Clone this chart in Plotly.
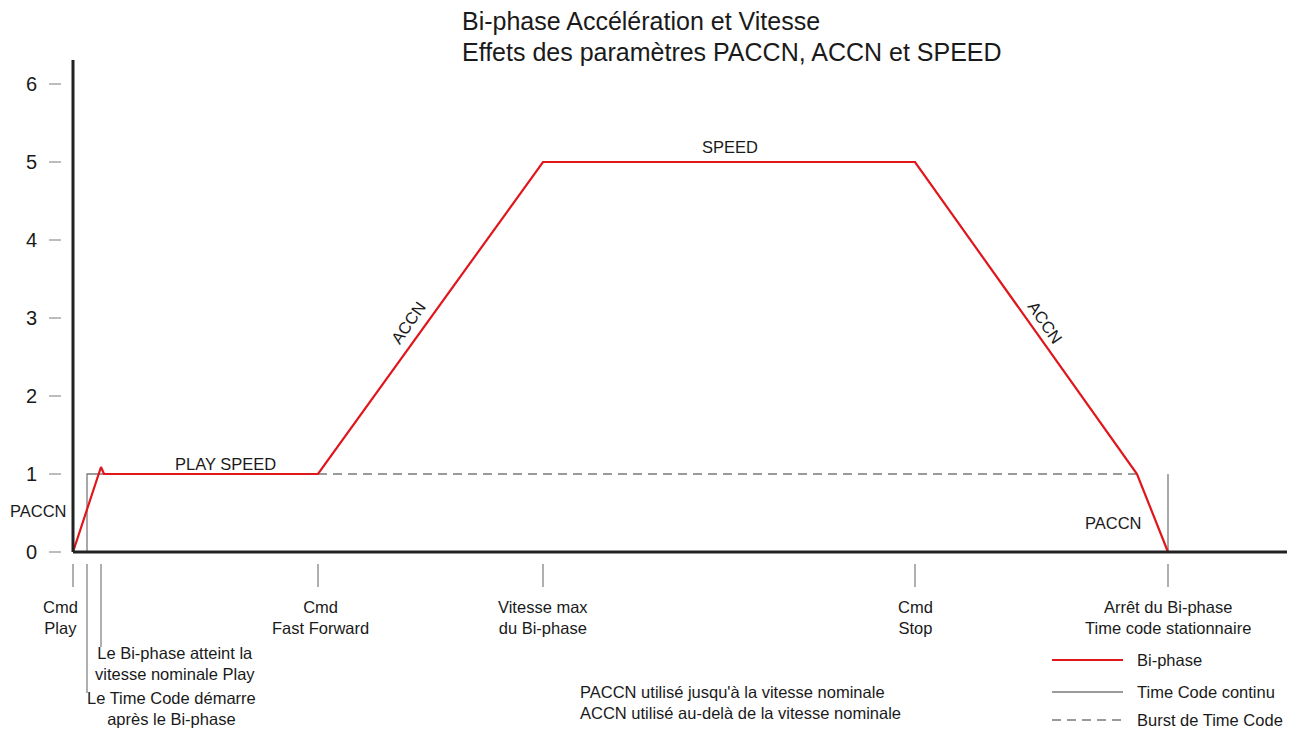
import plotly.graph_objects as go

# ---------------- data ----------------
# Bi-phase speed profile (time in arbitrary units, speed in x nominal)
biphase_t = [0, 2.8, 3.1, 24.5, 47.0, 84.2, 106.4, 109.5]
biphase_v = [0, 1.09, 1.0, 1.0, 5.0, 5.0, 1.0, 0]

# Time code continuous (starts after bi-phase, follows nominal speed)
tc_cont_t = [1.4, 1.4, 24.5]
tc_cont_v = [0, 1, 1]
tc_stop_t = [109.5, 109.5]
tc_stop_v = [1, 0]

# Burst of time code (above nominal speed)
burst_t = [24.5, 106.4]
burst_v = [1, 1]

y_ticks = [0, 1, 2, 3, 4, 5, 6]

event_t = [0, 1.4, 2.8, 24.5, 47.0, 84.2, 109.5]
event_labels = ["Cmd<br>Play",
                "Le Time Code démarre<br>après le Bi-phase",
                "Le Bi-phase atteint la<br>vitesse nominale Play",
                "Cmd<br>Fast Forward",
                "Vitesse max<br>du Bi-phase",
                "Cmd<br>Stop",
                "Arrêt du Bi-phase<br>Time code stationnaire"]

legend_names = ["Bi-phase", "Time Code continu", "Burst de Time Code"]

title_lines = ["Bi-phase Accélération et Vitesse",
               "Effets des paramètres PACCN, ACCN et SPEED"]

# ---------------- layout helpers ----------------
W, H = 1297, 729
PAGE_OFF = 8                  # page body margin
X0PX, XSCALE = 73, 10.0       # page pixel of t=0, pixels per time unit
Y0PX, YSCALE = 552, 78.0      # page pixel of v=0, pixels per speed unit


def px_x(p):
    return (p - X0PX) / XSCALE


def px_y(p):
    return (Y0PX - p) / YSCALE


FONT = "Liberation Sans, Arial, sans-serif"
TXT = "#1a1a1a"
RED = "#e0161b"
GRAY = "#7a7a7a"
FS = 16.5
DASH = "9px,6px"

fig = go.Figure()

fig.add_trace(go.Scatter(x=tc_cont_t, y=tc_cont_v, mode="lines",
                         line=dict(color=GRAY, width=1.3), name=legend_names[1],
                         showlegend=False))
fig.add_trace(go.Scatter(x=tc_stop_t, y=tc_stop_v, mode="lines",
                         line=dict(color=GRAY, width=1.3), showlegend=False))
fig.add_trace(go.Scatter(x=burst_t, y=burst_v, mode="lines",
                         line=dict(color=GRAY, width=1.3, dash=DASH),
                         name=legend_names[2], showlegend=False))
fig.add_trace(go.Scatter(x=biphase_t, y=biphase_v, mode="lines",
                         line=dict(color=RED, width=2.2), name=legend_names[0],
                         showlegend=False))

shapes = []
annotations = []

# axes lines
shapes.append(dict(type="line", x0=0, x1=px_x(1287), y0=0, y1=0,
                   line=dict(color="#222", width=3)))
shapes.append(dict(type="line", x0=0, x1=0, y0=0, y1=px_y(60),
                   line=dict(color="#222", width=3)))

# y ticks
for v in y_ticks:
    shapes.append(dict(type="line", x0=px_x(49), x1=px_x(61), y0=v, y1=v,
                       line=dict(color=GRAY, width=1)))
    annotations.append(dict(x=px_x(31), y=v, text=str(v), showarrow=False,
                            xanchor="center", yanchor="middle",
                            font=dict(size=20, color=TXT, family=FONT)))

# event markers below axis
tick_bottom = {1.4: 693, 2.8: 647}
for t in event_t:
    yb = tick_bottom.get(t, 587)
    shapes.append(dict(type="line", x0=t, x1=t, y0=px_y(564), y1=px_y(yb),
                       line=dict(color=GRAY, width=1.2)))

label_pos = {0: (60, 617), 1: (171, 708), 2: (175, 663), 3: (320, 617),
             4: (543, 617), 5: (915, 617), 6: (1168, 617)}
for i, lab in enumerate(event_labels):
    cx, cy = label_pos[i]
    annotations.append(dict(x=px_x(cx), y=px_y(cy), text=lab, showarrow=False,
                            xanchor="center", yanchor="middle",
                            font=dict(size=FS, color=TXT, family=FONT)))

# curve labels
curve_labels = [("PLAY SPEED", 225, 464, 0), ("SPEED", 730, 147, 0),
                ("ACCN", 408, 323, -55), ("ACCN", 1045, 322, 55),
                ("PACCN", 38, 511, 0), ("PACCN", 1113, 523, 0)]
for txt, cx, cy, ang in curve_labels:
    annotations.append(dict(x=px_x(cx), y=px_y(cy), text=txt, showarrow=False,
                            xanchor="center", yanchor="middle", textangle=ang,
                            font=dict(size=FS, color=TXT, family=FONT)))

# notes
annotations.append(dict(x=px_x(578), y=px_y(702),
                        text="PACCN utilisé jusqu'à la vitesse nominale<br>"
                             "ACCN utilisé au-delà de la vitesse nominale",
                        showarrow=False, xanchor="left", yanchor="middle",
                        align="left", font=dict(size=FS, color=TXT, family=FONT)))

# legend (drawn)
leg_rows = [(660, RED, 2.2, "solid"), (692, GRAY, 1.3, "solid"),
            (720, GRAY, 1.3, DASH)]
for (py, col, w, dash), name in zip(leg_rows, legend_names):
    shapes.append(dict(type="line", x0=px_x(1052), x1=px_x(1123),
                       y0=px_y(py), y1=px_y(py),
                       line=dict(color=col, width=w, dash=dash)))
    annotations.append(dict(x=px_x(1135), y=px_y(py), text=name, showarrow=False,
                            xanchor="left", yanchor="middle",
                            font=dict(size=FS, color=TXT, family=FONT)))

# title (two left-aligned lines)
for line, cy in zip(title_lines, [21, 52]):
    annotations.append(dict(x=px_x(460), y=px_y(cy), text=line, showarrow=False,
                            xanchor="left", yanchor="middle",
                            font=dict(size=25, color=TXT, family=FONT)))

fig.update_layout(
    width=W, height=H,
    margin=dict(l=0, r=0, t=0, b=0),
    paper_bgcolor="white", plot_bgcolor="white",
    showlegend=False,
    xaxis=dict(range=[px_x(PAGE_OFF), px_x(PAGE_OFF + W)], visible=False,
               fixedrange=True),
    yaxis=dict(range=[px_y(PAGE_OFF + H), px_y(PAGE_OFF)], visible=False,
               fixedrange=True),
    shapes=shapes,
    annotations=annotations,
)

fig.write_html("out.html")
